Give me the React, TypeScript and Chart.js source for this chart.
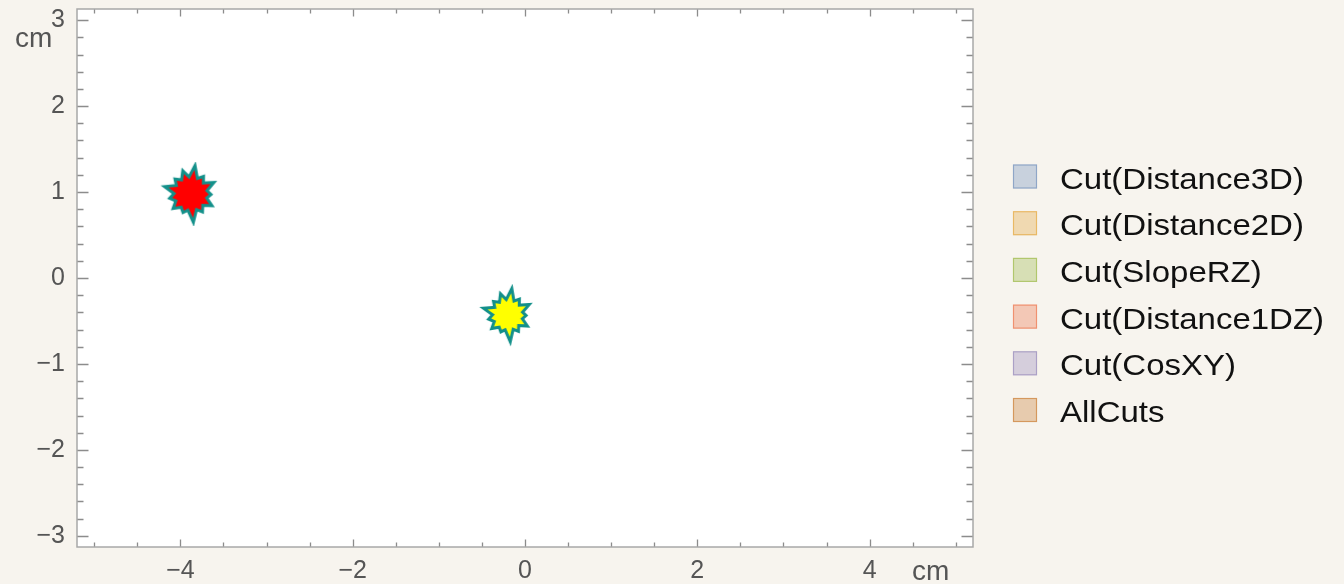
import { useEffect, useRef } from "react";
import { Chart, registerables } from "chart.js";

Chart.register(...registerables);

// ---- data ----
const seriesNames = [
  "Cut(Distance3D)",
  "Cut(Distance2D)",
  "Cut(SlopeRZ)",
  "Cut(Distance1DZ)",
  "Cut(CosXY)",
  "AllCuts",
];
const seriesX: number[][] = [[], [], [], [-3.88], [], [-0.2]];
const seriesY: number[][] = [[], [], [], [0.98], [], [-0.43]];
const swatchColors = ["#5e81b5", "#e19c24", "#8fb032", "#eb6235", "#8778b3", "#c56e1a"];
const markerFills = ["#5e81b5", "#e19c24", "#8fb032", "#ff0000", "#8778b3", "#ffff00"];
const xTickLabels = [-4, -2, 0, 2, 4];
const yTickLabels = [-3, -2, -1, 0, 1, 2, 3];
const xRange = [-5.2, 5.2];
const yRange = [-3.13, 3.13];
const axisUnit = "cm";

const FONT = "'Liberation Sans', Arial, sans-serif";
const BG = "#f7f4ee";

function hexA(hex: string, a: number) {
  const n = parseInt(hex.slice(1), 16);
  return `rgba(${(n >> 16) & 255},${(n >> 8) & 255},${n & 255},${a})`;
}

function makeBurst(fill: string, big: boolean) {
  const c = document.createElement("canvas");
  c.width = 64;
  c.height = 64;
  const g = c.getContext("2d")!;
  const outer = big
    ? [24, 19, 22, 18, 21, 19, 24, 18, 20, 19, 23, 19, 21]
    : [22, 17, 20, 16, 19, 17, 22, 16, 18, 17, 21, 17, 19];
  const inner = big ? 14.5 : 13;
  const n = outer.length;
  g.beginPath();
  for (let i = 0; i < n; i++) {
    const a = -Math.PI / 2 + (i * 2 * Math.PI) / n + 0.15;
    const a2 = a + Math.PI / n;
    g.lineTo(32 + outer[i] * Math.cos(a), 32 + outer[i] * Math.sin(a));
    g.lineTo(32 + inner * Math.cos(a2), 32 + inner * Math.sin(a2));
  }
  g.closePath();
  g.lineJoin = "miter";
  g.lineWidth = 6;
  g.strokeStyle = "#13908a";
  g.stroke();
  g.fillStyle = fill;
  g.fill();
  return c;
}

const fmt = (v: number | string) => {
  const n = Number(v);
  return n < 0 ? "\u2212" + Math.abs(n) : String(n);
};

const framePlugin = {
  id: "frame",
  beforeDatasetsDraw(chart: any) {
    const { ctx, chartArea: ca, scales } = chart;
    ctx.save();
    ctx.fillStyle = "#ffffff";
    ctx.fillRect(ca.left, ca.top, ca.right - ca.left, ca.bottom - ca.top);
    // ticks
    ctx.strokeStyle = "#8c8c8c";
    ctx.lineWidth = 1.3;
    ctx.beginPath();
    for (let k = -10; k <= 10; k++) {
      const v = k * 0.5;
      if (v < xRange[0] || v > xRange[1]) continue;
      const major = k % 4 === 0;
      const len = major ? 7.5 : 4.5;
      const px = Math.round(scales.x.getPixelForValue(v)) + 0.5;
      ctx.moveTo(px, ca.bottom);
      ctx.lineTo(px, ca.bottom - len);
      ctx.moveTo(px, ca.top);
      ctx.lineTo(px, ca.top + len);
    }
    for (let k = -15; k <= 15; k++) {
      const v = k * 0.2;
      if (v < yRange[0] || v > yRange[1]) continue;
      const major = k % 5 === 0;
      const len = major ? 11.5 : 6.5;
      const py = Math.round(scales.y.getPixelForValue(v)) + 0.5;
      ctx.moveTo(ca.left, py);
      ctx.lineTo(ca.left + len, py);
      ctx.moveTo(ca.right, py);
      ctx.lineTo(ca.right - len, py);
    }
    ctx.stroke();
    // frame
    ctx.strokeStyle = "#a8a8a8";
    ctx.lineWidth = 1.5;
    ctx.strokeRect(ca.left, ca.top, ca.right - ca.left, ca.bottom - ca.top);
    ctx.restore();
  },
  afterDraw(chart: any) {
    const { ctx, chartArea: ca } = chart;
    ctx.save();
    // axis units
    ctx.fillStyle = "#555555";
    ctx.font = `28px ${FONT}`;
    ctx.textBaseline = "alphabetic";
    ctx.textAlign = "left";
    ctx.fillText(axisUnit, 15, 47);
    ctx.fillText(axisUnit, 912, 580);
    // legend
    const ds = chart.data.datasets;
    const x0 = ca.right + 40;
    const y0 = 176.5;
    const step = 46.7;
    for (let i = 0; i < ds.length; i++) {
      const cy = y0 + i * step;
      const col = swatchColors[i];
      ctx.fillStyle = hexA(col, 0.3);
      ctx.fillRect(x0, cy - 12, 24, 24);
      ctx.strokeStyle = hexA(col, 0.55);
      ctx.lineWidth = 1.2;
      ctx.strokeRect(x0 + 0.5, cy - 11.5, 23, 23);
      ctx.save();
      ctx.translate(x0 + 47, cy + 12);
      ctx.scale(1.1, 1);
      ctx.fillStyle = "#111111";
      ctx.font = `30px ${FONT}`;
      ctx.fillText(ds[i].label, 0, 0);
      ctx.restore();
    }
    ctx.restore();
  },
};

export default function App() {
  const ref = useRef<HTMLCanvasElement | null>(null);
  useEffect(() => {
    document.body.style.margin = "0";
    document.body.style.background = BG;
    const datasets = seriesNames.map((name, i) => ({
      label: name,
      data: seriesX[i].map((x, j) => ({ x, y: seriesY[i][j] })),
      pointStyle: makeBurst(markerFills[i], i === 3) as any,
      pointRadius: 22,
      showLine: false,
    }));
    const chart = new Chart(ref.current!, {
      type: "scatter",
      data: { datasets },
      options: {
        animation: false,
        responsive: true,
        maintainAspectRatio: false,
        layout: { autoPadding: false, padding: { top: 9, right: 371, left: 0, bottom: 0 } },
        plugins: { legend: { display: false }, tooltip: { enabled: false } },
        scales: {
          x: {
            type: "linear",
            min: xRange[0],
            max: xRange[1],
            grid: { display: false, drawTicks: false },
            border: { display: false },
            afterBuildTicks: (s: any) => {
              s.ticks = xTickLabels.map((v) => ({ value: v }));
            },
            afterFit: (s: any) => {
              s.height = 37;
              s.paddingLeft = 0;
              s.paddingRight = 0;
            },
            ticks: {
              autoSkip: false,
              maxRotation: 0,
              padding: 9,
              color: "#555555",
              font: { family: FONT, size: 25 },
              callback: fmt,
            },
          },
          y: {
            type: "linear",
            min: yRange[0],
            max: yRange[1],
            grid: { display: false, drawTicks: false },
            border: { display: false },
            afterBuildTicks: (s: any) => {
              s.ticks = yTickLabels.map((v) => ({ value: v }));
            },
            afterFit: (s: any) => {
              s.width = 77;
              s.paddingTop = 0;
              s.paddingBottom = 0;
            },
            ticks: {
              autoSkip: false,
              padding: 12,
              color: "#555555",
              font: { family: FONT, size: 25 },
              callback: fmt,
            },
          },
        },
      },
      plugins: [framePlugin],
    });
    return () => chart.destroy();
  }, []);
  return (
    <div style={{ position: "fixed", left: 0, top: 0, width: 1344, height: 584, background: BG }}>
      <canvas ref={ref} />
    </div>
  );
}
